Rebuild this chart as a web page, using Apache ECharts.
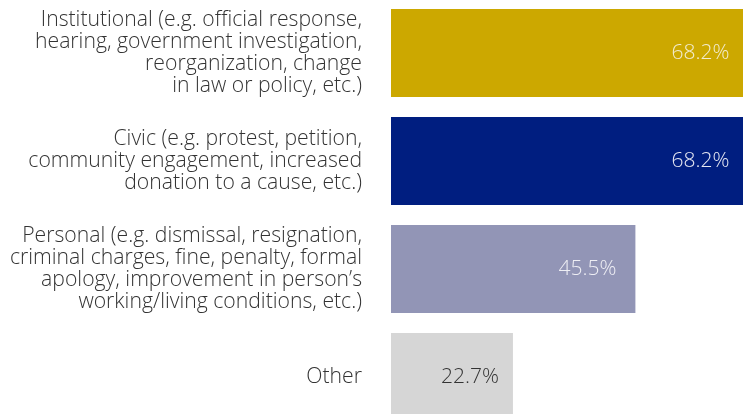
<!DOCTYPE html>
<html><head><meta charset="utf-8">
<style>html,body{margin:0;padding:0;background:#fff}#c{width:743px;height:414px}</style>
<script src="https://cdn.jsdelivr.net/npm/echarts@6/dist/echarts.min.js"></script>
</head><body><div id="c"></div>
<script>
const categories = [
  "Institutional (e.g. official response,\nhearing, government investigation,\nreorganization, change\nin law or policy, etc.)",
  "Civic (e.g. protest, petition,\ncommunity engagement, increased\ndonation to a cause, etc.)",
  "Personal (e.g. dismissal, resignation,\ncriminal charges, fine, penalty, formal\napology, improvement in person\u2019s\nworking/living conditions, etc.)",
  "Other"
];
const values = [68.2, 68.2, 45.5, 22.7];
const barColors = ["#CCA800", "#001E80", "#9295B6", "#D6D6D6"];
const labelColors = ["#F2ECD0", "#E6E8F2", "#EEEEF4", "#333333"];
const labelDistances = [28, 28, 19, 14];

const chart = echarts.init(document.getElementById('c'), null, {renderer: 'canvas'});
chart.setOption({
  animation: false,
  grid: {left: 391, width: 376, top: -1, height: 432, containLabel: false, outerBoundsMode: 'none'},
  xAxis: {type: 'value', min: 0, max: 70, show: false},
  yAxis: {
    type: 'category', data: categories, inverse: true,
    axisLine: {show: false}, axisTick: {show: false},
    axisLabel: {
      margin: 29, align: 'right', fontFamily: 'Open Sans', fontWeight: 300,
      fontSize: 21.2, lineHeight: 21.7, color: '#333333'
    }
  },
  series: [{
    type: 'bar',
    barCategoryGap: '18.5%',
    data: values.map((v, i) => ({
      value: v,
      itemStyle: {color: barColors[i]},
      label: {color: labelColors[i], distance: labelDistances[i]}
    })),
    label: {
      show: true, position: 'insideRight', fontFamily: 'Open Sans', fontWeight: 300,
      fontSize: 21, formatter: p => p.value.toFixed(1) + '%'
    }
  }]
});
</script></body></html>
